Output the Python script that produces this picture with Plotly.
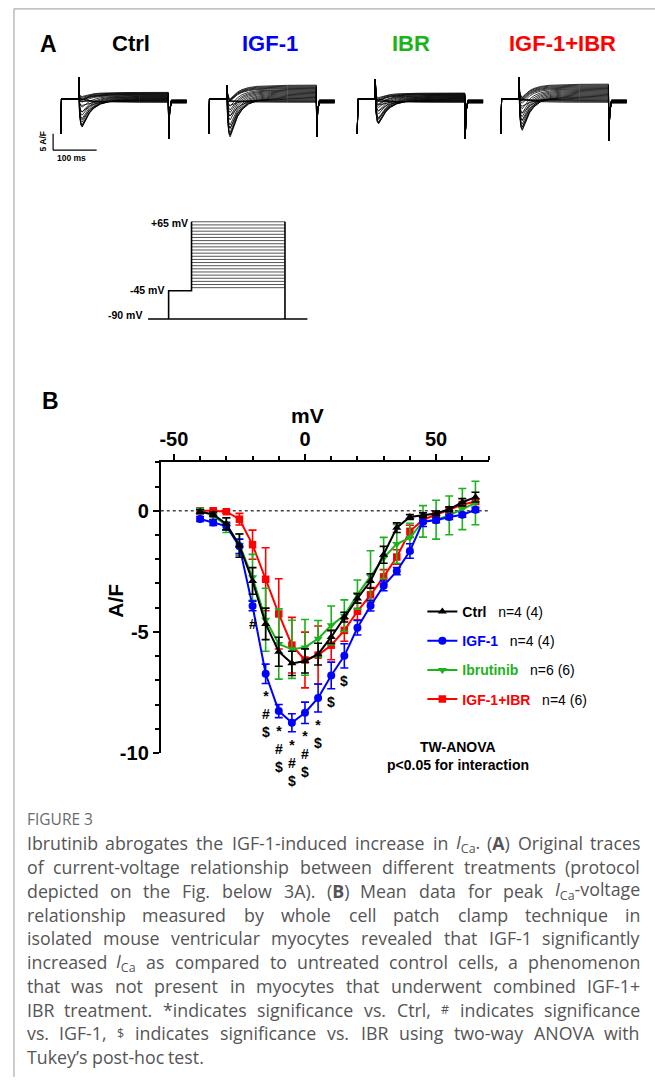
import re
import plotly.graph_objects as go

W, H = 655, 1088
FONT = "Liberation Sans, Arial, Helvetica, sans-serif"

# ---------------- Panel B data (mean +/- SEM, A/F) ----------------
voltage_mv = [-40, -35, -30, -25, -20, -15, -10, -5, 0, 5, 10, 15, 20, 25, 30, 35, 40, 45, 50, 55, 60, 65]
ctrl_mean = [-0.04, -0.15, -0.54, -1.44, -2.90, -4.67, -5.82, -6.30, -6.20, -5.92, -5.21, -4.39, -3.62, -2.90, -1.82, -0.70, -0.26, -0.19, -0.11, 0.06, 0.35, 0.56]
ctrl_sem = [0.08, 0.10, 0.25, 0.48, 0.55, 0.65, 0.60, 0.50, 0.50, 0.45, 0.27, 0.20, 0.20, 0.30, 0.35, 0.20, 0.10, 0.10, 0.10, 0.10, 0.15, 0.20]
igf_mean = [-0.34, -0.49, -0.63, -1.47, -3.93, -6.73, -8.27, -8.75, -8.34, -7.73, -6.80, -5.99, -4.83, -3.92, -3.10, -2.49, -1.66, -0.45, -0.39, -0.26, -0.17, 0.04]
igf_sem = [0.10, 0.12, 0.15, 0.30, 0.20, 0.40, 0.27, 0.37, 0.44, 0.58, 0.55, 0.50, 0.30, 0.22, 0.20, 0.15, 0.30, 0.20, 0.10, 0.10, 0.10, 0.10]
ibr_mean = [0.00, -0.20, -0.60, -1.40, -2.75, -4.50, -5.50, -5.72, -5.64, -5.28, -4.73, -4.33, -3.46, -2.70, -1.95, -1.37, -1.12, -0.44, -0.37, -0.19, 0.07, 0.32]
ibr_sem = [0.10, 0.15, 0.30, 0.45, 0.95, 1.30, 1.45, 1.20, 1.15, 0.75, 0.80, 0.65, 0.60, 1.05, 0.85, 0.80, 0.60, 0.65, 0.80, 0.80, 0.85, 0.90]
combo_mean = [0.00, 0.00, -0.04, -0.35, -1.40, -2.83, -4.26, -5.55, -6.16, -5.96, -5.55, -4.94, -4.15, -3.47, -2.73, -1.91, -0.85, -0.37, -0.16, 0.03, 0.25, 0.38]
combo_sem = [0.05, 0.05, 0.06, 0.24, 0.60, 1.30, 1.45, 1.15, 1.15, 1.20, 0.60, 0.45, 0.35, 0.30, 0.30, 0.30, 0.25, 0.15, 0.10, 0.10, 0.10, 0.10]

series_labels = ["Ctrl", "IGF-1", "Ibrutinib", "IGF-1+IBR"]
series_n = ["n=4 (4)", "n=4 (4)", "n=6 (6)", "n=4 (6)"]
series_colors = ["#000000", "#0000FF", "#1DB31D", "#FF0000"]
series_symbols = ["triangle-up", "circle", "triangle-down", "square"]
series_means = [ctrl_mean, igf_mean, ibr_mean, combo_mean]
series_sems = [ctrl_sem, igf_sem, ibr_sem, combo_sem]

# significance labels under the IGF-1 curve
sig_voltage = [-20, -15, -10, -5, 0, 5, 10, 15]
sig_labels = ["#", "*<br>#<br>$", "*<br>#<br>$", "*<br>#<br>$", "*<br>#<br>$", "*<br>$", "$", "$"]

# ---------------- Panel A (representative traces) ----------------
trace_groups = ["Ctrl", "IGF-1", "IBR", "IGF-1+IBR"]
trace_title_colors = ["#000000", "#0000FF", "#1DB31D", "#FF0000"]
trace_iv = [ctrl_mean, igf_mean, ibr_mean, combo_mean]
trace_start_ms = [0, 340, 681, 1011]
trace_peak = [-8.5, -11.5, -7.5, -9.5]
trace_ss_top = [2.0, 4.2, 1.8, 4.5]
trace_spike = [6.5, 4.2, 6.0, 6.5]
trace_onset = [-10.5, -10.5, -10.5, -10.5]
trace_tail = [-12.0, -11.5, -12.0, -12.5]
decay_dt = [2, 5, 8, 12, 18, 25, 35, 50, 70, 100, 140, 206]
decay_frac = [0.55, 0.92, 1.0, 0.88, 0.68, 0.50, 0.33, 0.18, 0.09, 0.04, 0.015, 0.0]
pulse_onset_ms, pulse_len_ms, trace_len_ms = 41, 206, 289

# ---------------- Protocol ----------------
hold_mv, prepulse_mv = -90, -45
protocol_t = [0, 44, 93, 293, 341]   # hold, prepulse, step, end, stop (ms)

caption_title = "FIGURE 3"
caption_lines = [
    "Ibrutinib abrogates the IGF-1-induced increase in <i>I</i><sub>Ca</sub>. (<b>A</b>) Original traces",
    "of current-voltage relationship between different treatments (protocol",
    "depicted on the Fig. below 3A). (<b>B</b>) Mean data for peak <i>I</i><sub>Ca</sub>-voltage",
    "relationship measured by whole cell patch clamp technique in",
    "isolated mouse ventricular myocytes revealed that IGF-1 significantly",
    "increased <i>I</i><sub>Ca</sub> as compared to untreated control cells, a phenomenon",
    "that was not present in myocytes that underwent combined IGF-1+",
    "IBR treatment. *indicates significance vs. Ctrl, <sup>#</sup> indicates significance",
    "vs. IGF-1, <sup>$</sup> indicates significance vs. IBR using two-way ANOVA with",
    "Tukey\u2019s post-hoc test.",
]


def px(x):
    return x / W


def py(y):
    return 1 - y / H


fig = go.Figure()

# ---- Panel B series (draw red, green, blue, black so black is on top)
for i in [3, 2, 1, 0]:
    name = ("<b><span style='color:%s'>%s</span></b>\u00a0\u00a0\u00a0%s"
            % (series_colors[i], series_labels[i], series_n[i]))
    fig.add_trace(go.Scatter(
        x=voltage_mv, y=series_means[i], mode="lines+markers", name=name,
        line=dict(color=series_colors[i], width=2),
        marker=dict(symbol=series_symbols[i], color=series_colors[i],
                    size=8 if series_symbols[i] != "square" else 7.5),
        error_y=dict(type="data", array=series_sems[i], color=series_colors[i],
                     thickness=1.6, width=4),
        legendgroup=series_labels[i], legendrank=i + 1,
        xaxis="x", yaxis="y", cliponaxis=False))

# ---- Panel A traces
for g in range(4):
    iv = trace_iv[g]
    scale = trace_peak[g] / min(iv)
    nstep = len(iv)
    xs, ys = [], []
    t0 = trace_start_ms[g]
    for k in range(nstep):
        peak = iv[k] * scale
        ss = -1.0 + (trace_ss_top[g] + 1.0) * k / (nstep - 1)
        post = -0.3 - 0.9 * k / (nstep - 1)
        tx = [0, 1.5, pulse_onset_ms, pulse_onset_ms + 0.5]
        ty = [trace_onset[g], 0, 0, trace_spike[g]]
        for dt, fr in zip(decay_dt, decay_frac):
            tx.append(pulse_onset_ms + dt)
            ty.append(ss + (peak - ss) * fr)
        te = pulse_onset_ms + pulse_len_ms
        tx += [te + 1, te + 3, te + 7, trace_len_ms]
        ty += [trace_tail[g], trace_tail[g] * 0.3, post, post]
        xs += [t0 + v for v in tx] + [None]
        ys += ty + [None]
    fig.add_trace(go.Scatter(x=xs, y=ys, mode="lines",
                             line=dict(color="black", width=0.8),
                             showlegend=False, hoverinfo="skip",
                             xaxis="x2", yaxis="y2"))

# ---- Protocol
tp = protocol_t
pxs = [tp[0], tp[4], None, tp[1], tp[1], tp[2], tp[2], None, tp[3], tp[3]]
pys = [hold_mv, hold_mv, None, hold_mv, prepulse_mv, prepulse_mv, max(voltage_mv), None,
       max(voltage_mv), hold_mv]
sx, sy = [], []
for v in voltage_mv:
    sx += [tp[2], tp[3], None]
    sy += [v, v, None]
fig.add_trace(go.Scatter(x=sx, y=sy, mode="lines", line=dict(color="#555555", width=1),
                         showlegend=False, hoverinfo="skip", xaxis="x3", yaxis="y3"))
fig.add_trace(go.Scatter(x=pxs, y=pys, mode="lines", line=dict(color="black", width=1.6),
                         showlegend=False, hoverinfo="skip", xaxis="x3", yaxis="y3"))

annotations = []


def ann(text, x, y, size, color="black", bold=True, xanchor="center", yanchor="middle",
        angle=0, family=FONT):
    t = "<b>%s</b>" % text if bold else text
    annotations.append(dict(text=t, x=px(x), y=py(y), xref="paper", yref="paper",
                            showarrow=False, xanchor=xanchor, yanchor=yanchor,
                            textangle=angle, borderpad=0,
                            font=dict(size=size, color=color, family=family)))


# panel letters & titles
ann("A", 48, 44, 23)
ann("B", 50, 405, 23)
title_x = [130, 269, 411, 562]
for g in range(4):
    ann(trace_groups[g], title_x[g], 44, 22, color=trace_title_colors[g])

# scale bar labels
ann("5 A/F", 42, 143, 8.5, angle=-90)
ann("100 ms", 71, 160, 8.5)

# protocol labels
ann("+65 mV", 188, 225, 10.5, xanchor="right")
ann("-45 mV", 164, 293, 10.5, xanchor="right")
ann("-90 mV", 142, 318, 10.5, xanchor="right")

# axis titles
ann("mV", 307, 420, 21)
ann("A/F", 115, 607, 21, angle=-90)

# significance markers
for v, lab in zip(sig_voltage, sig_labels):
    i = voltage_mv.index(v)
    annotations.append(dict(text="<b>%s</b>" % lab, x=v, y=igf_mean[i] - igf_sem[i],
                            xref="x", yref="y", showarrow=False, yanchor="top",
                            xanchor="center", yshift=-3, align="center",
                            font=dict(size=14, color="black", family=FONT)))

# ANOVA note
ann("TW-ANOVA", 458, 755, 14)
ann("p&lt;0.05 for interaction", 458, 773, 14)

# ---- caption (justified word by word, Open Sans advance widths /2048 em)
CAP = "Open Sans, Noto Sans, sans-serif"
CAP_SIZE = 17.8
ADV = {' ': 532, '!': 551, '#': 1323, '$': 1171, '\u2019': 393, "'": 446, '(': 555, ')': 555,
       '*': 1122, '+': 1171, ',': 492, '-': 659, '.': 545, '/': 752, ':': 545, ';': 545,
       'A': 1296, 'B': 1327, 'C': 1292, 'D': 1493, 'E': 1139, 'F': 1057, 'G': 1491,
       'H': 1511, 'I': 571, 'J': 547, 'K': 1257, 'L': 1063, 'M': 1849, 'N': 1544, 'O': 1595,
       'P': 1233, 'Q': 1595, 'R': 1266, 'S': 1124, 'T': 1143, 'U': 1511, 'V': 1206,
       'W': 1882, 'X': 1200, 'Y': 1153, 'Z': 1153, 'a': 1139, 'b': 1255, 'c': 975,
       'd': 1255, 'e': 1149, 'f': 694, 'g': 1122, 'h': 1257, 'i': 518, 'j': 518, 'k': 1075,
       'l': 518, 'm': 1905, 'n': 1257, 'o': 1237, 'p': 1255, 'q': 1255, 'r': 836, 's': 977,
       't': 723, 'u': 1257, 'v': 1026, 'w': 1593, 'x': 1073, 'y': 1028, 'z': 977}


def plain_width(s):
    s = re.sub(r"<[^>]*>", "", s)
    return sum(ADV.get(c, 1171) for c in s)


def word_width(word):
    total = 0.0
    pos = 0
    for m in re.finditer(r"<(su[bp])>(.*?)</\1>", word):
        total += plain_width(word[pos:m.start()])
        total += 0.7 * plain_width(m.group(2))
        pos = m.end()
    total += plain_width(word[pos:])
    return total * CAP_SIZE / 2048.0


CAP_L, CAP_R = 25, 641
ann(caption_title, CAP_L, 827, 15.5, color="#6b6b6b", bold=False, xanchor="left", family=CAP)
for j, line in enumerate(caption_lines):
    yline = 852 + 24 * j
    words = line.split(" ")
    widths = [word_width(w) for w in words]
    last = j == len(caption_lines) - 1
    if last:
        gap = ADV[' '] * CAP_SIZE / 2048.0
    else:
        gap = (CAP_R - CAP_L - sum(widths)) / (len(words) - 1)
    xcur = CAP_L
    for k, (w, wd) in enumerate(zip(words, widths)):
        if k == 0:
            ann(w, xcur, yline, CAP_SIZE, color="#555555", bold=False, xanchor="left", family=CAP)
        elif k == len(words) - 1 and not last:
            ann(w, CAP_R, yline, CAP_SIZE, color="#555555", bold=False, xanchor="right", family=CAP)
        else:
            ann(w, xcur + wd / 2, yline, CAP_SIZE, color="#555555", bold=False,
                xanchor="center", family=CAP)
        xcur += wd + gap

shapes = [
    # zero reference line
    dict(type="line", xref="x", yref="y", x0=-55, x1=70, y0=0, y1=0,
         line=dict(color="#444444", width=1.5, dash="dot"), layer="below"),
    # scale bar
    dict(type="line", xref="x2", yref="y2", x0=-17.7, x1=-17.7, y0=-10.5, y1=-15.5,
         line=dict(color="black", width=1.2)),
    dict(type="line", xref="x2", yref="y2", x0=-17.7, x1=82.3, y0=-15.5, y1=-15.5,
         line=dict(color="black", width=1.2)),
    # frame
    dict(type="line", xref="paper", yref="paper", x0=px(13), x1=px(13), y0=py(9), y1=0,
         line=dict(color="#9a9a9a", width=1)),
    dict(type="line", xref="paper", yref="paper", x0=px(13), x1=1, y0=py(9), y1=py(9),
         line=dict(color="#9a9a9a", width=1)),
]

tick_font = dict(size=20, color="black", family=FONT)
fig.update_layout(
    width=W, height=H, autosize=False,
    margin=dict(l=0, r=0, t=0, b=0),
    paper_bgcolor="white", plot_bgcolor="white",
    font=dict(family=FONT, color="black"),
    xaxis=dict(domain=[px(160), px(488.3)], range=[-55, 70], side="top", anchor="y",
               showline=True, linewidth=2, linecolor="black", mirror=False,
               ticks="outside", ticklen=6, tickwidth=2, tickcolor="black",
               tickvals=[-50, 0, 50], ticktext=["<b>-50</b>", "<b>0</b>", "<b>50</b>"],
               tickfont=tick_font,
               minor=dict(tickvals=[-40, -30, -20, -10, 10, 20, 30, 40, 60, 70],
                          ticks="outside", ticklen=4, tickwidth=2, tickcolor="black"),
               showgrid=False, zeroline=False),
    yaxis=dict(domain=[py(760.7), py(467)], range=[-10, 2], anchor="x",
               showline=True, linewidth=2, linecolor="black",
               ticks="outside", ticklen=6, tickwidth=2, tickcolor="black",
               tickvals=[0, -5, -10], ticktext=["<b>0</b>", "<b>-5</b>", "<b>-10</b>"],
               tickfont=tick_font,
               minor=dict(tickvals=[-9, -8, -7, -6, -4, -3, -2, -1, 1, 2],
                          ticks="outside", ticklen=4, tickwidth=2, tickcolor="black"),
               showgrid=False, zeroline=False),
    xaxis2=dict(domain=[0, 1], range=[-137.4, 1364.9], anchor="y2", visible=False),
    yaxis2=dict(domain=[py(200), py(60)], range=[-30, 12], anchor="x2", visible=False),
    xaxis3=dict(domain=[0, 1], range=[-314.7, 1084.8], anchor="y3", visible=False),
    yaxis3=dict(domain=[py(340), py(200)], range=[-117.9, 102.9], anchor="x3", visible=False),
    legend=dict(x=px(422), y=py(602), xanchor="left", yanchor="top",
                font=dict(size=14, family=FONT, color="black"),
                tracegroupgap=8, bgcolor="rgba(0,0,0,0)", itemwidth=30),
    annotations=annotations,
    shapes=shapes,
)

fig.write_html("out.html", config={"displayModeBar": False},
               post_script="document.body.style.margin='0';document.body.style.overflow='hidden';")
